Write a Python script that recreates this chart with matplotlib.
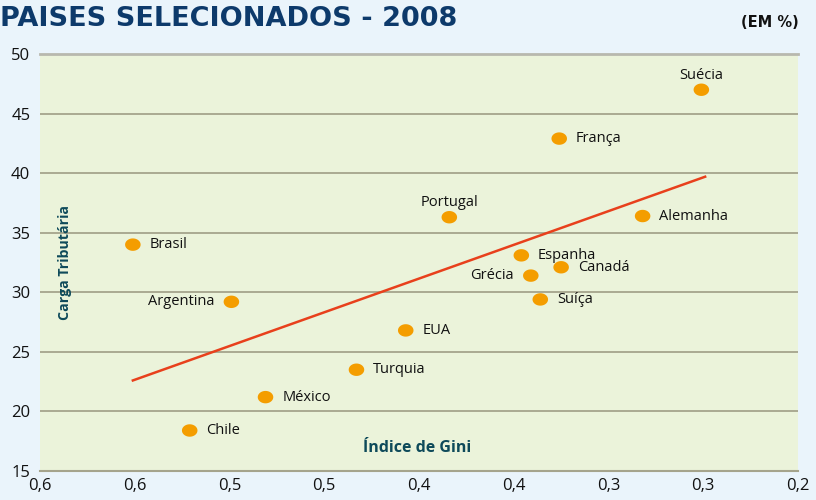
import matplotlib
matplotlib.use("Agg")
import matplotlib.pyplot as plt
import numpy as np
from matplotlib.path import Path
from matplotlib.ticker import FixedLocator, FuncFormatter
from decimal import Decimal, ROUND_HALF_UP

countries = ["Suécia", "França", "Portugal", "Alemanha", "Brasil", "Espanha", "Canadá",
             "Grécia", "Argentina", "Suíça", "EUA", "Turquia", "México", "Chile"]
gini = [0.251, 0.326, 0.384, 0.282, 0.551, 0.346, 0.325,
        0.341, 0.499, 0.336, 0.407, 0.433, 0.481, 0.521]
carga = [47.0, 42.9, 36.3, 36.4, 34.0, 33.1, 32.1,
         31.4, 29.2, 29.4, 26.8, 23.5, 21.2, 18.4]
label_side = ["top", "right", "top", "right", "right", "right", "right",
              "left", "left", "right", "right", "right", "right", "right"]
trend_x = [0.551, 0.249]
trend_y = [22.6, 39.7]
x_ticks = [0.6, 0.55, 0.5, 0.45, 0.4, 0.35, 0.3, 0.25, 0.2]
y_ticks = [15, 20, 25, 30, 35, 40, 45, 50]

plt.rcParams['font.family'] = ['Open Sans', 'DejaVu Sans']

fig = plt.figure(figsize=(8.16, 5.0), dpi=100)
fig.patch.set_facecolor("#EAF4FB")
ax = fig.add_axes([40/816, 29/500, 758/816, 417/500])
ax.set_facecolor("#EBF3DA")
ax.set_xlim(0.6, 0.2)
ax.set_ylim(15, 50)

ax.xaxis.set_major_locator(FixedLocator(x_ticks))
ax.yaxis.set_major_locator(FixedLocator(y_ticks))

def fmt_x(v, pos):
    d = Decimal(str(round(v, 4))).quantize(Decimal("0.1"), rounding=ROUND_HALF_UP)
    return str(d).replace(".", ",")

ax.xaxis.set_major_formatter(FuncFormatter(fmt_x))
ax.tick_params(axis='both', length=0, labelsize=12, colors="#111111")
ax.tick_params(axis='y', pad=7)
ax.tick_params(axis='x', pad=5)

ax.grid(axis='y', color="#A5A48C", linewidth=1.3)
ax.set_axisbelow(True)
for s in ["left", "right"]:
    ax.spines[s].set_visible(False)
ax.spines["top"].set_color("#B8B8AE")
ax.spines["top"].set_linewidth(2)
ax.spines["bottom"].set_color("#A5A48C")
ax.spines["bottom"].set_linewidth(1.5)

# elliptical marker (wider than tall)
t = np.linspace(0, 2 * np.pi, 60)
ellipse = Path(np.column_stack([np.cos(t), 0.8 * np.sin(t)]), closed=True)

ax.plot(trend_x, trend_y, color="#E8401C", linewidth=1.8, zorder=3)
ax.scatter(gini, carga, s=125, marker=ellipse, color="#F49D00", zorder=4,
           edgecolors='none')

for name, gx, cy, side in zip(countries, gini, carga, label_side):
    if side == "right":
        ax.annotate(name, (gx, cy), xytext=(12, 0), textcoords="offset points",
                    ha="left", va="center", fontsize=10.5, color="#111111")
    elif side == "left":
        ax.annotate(name, (gx, cy), xytext=(-12, 0), textcoords="offset points",
                    ha="right", va="center", fontsize=10.5, color="#111111")
    else:
        ax.annotate(name, (gx, cy), xytext=(0, 5), textcoords="offset points",
                    ha="center", va="bottom", fontsize=10.5, color="#111111")

ax.text(0.033, 0.5, "Carga Tributária", transform=ax.transAxes, rotation=90,
        ha="center", va="center", fontsize=10.2, fontweight="bold", color="#0E4A5A")
ax.text(0.498, 0.055, "Índice de Gini", transform=ax.transAxes,
        ha="center", va="center", fontsize=11.5, fontweight="bold", color="#0E4A5A")

fig.text(0.0, 1 - 26/500, "PAISES SELECIONADOS - 2008", ha="left", va="baseline",
         fontsize=19.5, fontweight="bold", color="#0D3A6B", family="DejaVu Sans")
fig.text(799/816, 1 - 27/500, "(EM %)", ha="right", va="baseline",
         fontsize=10.5, fontweight="bold", color="#111111", family="DejaVu Sans")

fig.savefig("out.png", dpi=100, facecolor=fig.get_facecolor())
